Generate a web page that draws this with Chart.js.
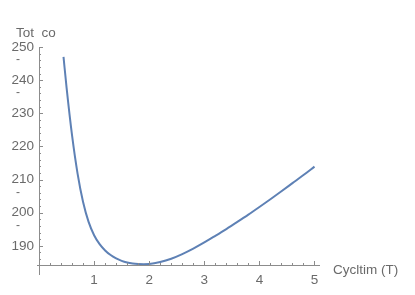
<!DOCTYPE html>
<html><head><meta charset="utf-8">
<script src="https://cdn.jsdelivr.net/npm/chart.js@4"></script>
<style>html,body{margin:0;padding:0;background:#fff}#wrap{width:415px;height:295px}</style>
</head><body><div id="wrap"><canvas id="c"></canvas></div>
<script>
const cycleTime = [0.445,0.5,0.6,0.7,0.8,0.9,1.0,1.1,1.2,1.3,1.4,1.5,1.6,1.7,1.8,1.9,2.0,2.2,2.4,2.6,2.8,3.0,3.2,3.4,3.6,3.8,4.0,4.2,4.4,4.6,4.8,5.0];
const totalCost = [247.0,237.8,223.3,211.8,203.2,197.2,193.2,190.5,188.6,187.2,186.2,185.45,184.95,184.65,184.5,184.45,184.5,185.1,186.1,187.5,189.15,191.0,193.0,195.05,197.2,199.4,201.7,204.05,206.45,208.9,211.35,213.9];
const xTicks = [1,2,3,4,5];
const yTicks = [190,200,210,220,230,240,250];
const yLabel = "Tot  co";
const xLabel = "Cycltim (T)";
const dashUnder = [250,240,210,200];

const axisColor = '#8c8c8c';
const textColor = '#6a6a6a';
const fontFam = '"Liberation Sans", Arial, sans-serif';

const axesPlugin = {
  id: 'mmaAxes',
  afterDatasetsDraw(chart) {
    const ctx = chart.ctx, xs = chart.scales.x, ys = chart.scales.y;
    const ax = xs.getPixelForValue(0), ay = ys.getPixelForValue(ys.min);
    ctx.save();
    ctx.strokeStyle = axisColor; ctx.lineWidth = 1;
    ctx.beginPath();
    ctx.moveTo(ax - 2, Math.round(ay) + 0.5); ctx.lineTo(xs.getPixelForValue(5.1), Math.round(ay) + 0.5);
    ctx.moveTo(Math.round(ax) + 0.5, ys.getPixelForValue(250)); ctx.lineTo(Math.round(ax) + 0.5, ay + 10);
    for (let v = 0.2; v <= 5.01; v += 0.2) {
      const p = Math.round(xs.getPixelForValue(v)) + 0.5;
      const major = Math.abs(v - Math.round(v)) < 1e-6;
      ctx.moveTo(p, ay); ctx.lineTo(p, ay - (major ? 4 : 2));
    }
    for (let v = 186; v <= 250.01; v += 2) {
      const p = Math.round(ys.getPixelForValue(v)) + 0.5;
      const major = v % 10 === 0;
      ctx.moveTo(ax, p); ctx.lineTo(ax + (major ? 4 : 2), p);
    }
    ctx.stroke();
    ctx.fillStyle = textColor;
    ctx.font = '13.5px ' + fontFam;
    ctx.textBaseline = 'alphabetic';
    ctx.textAlign = 'left';
    ctx.fillText(yLabel, 16, 37);
    ctx.fillText(xLabel, 333, 274);
    ctx.font = '12px ' + fontFam;
    dashUnder.forEach(v => {
      ctx.fillText('-', 16, ys.getPixelForValue(v) + 16);
    });
    ctx.restore();
  }
};

new Chart(document.getElementById('c'), {
  type: 'scatter',
  data: { datasets: [{
    data: cycleTime.map((t, i) => ({x: t, y: totalCost[i]})),
    showLine: true, borderColor: '#5E81B5', borderWidth: 2, pointRadius: 0,
    cubicInterpolationMode: 'monotone', fill: false
  }]},
  options: {
    responsive: true, maintainAspectRatio: false, animation: false,
    layout: { padding: { top: 47, right: 95, left: 0, bottom: 0 } },
    plugins: { legend: { display: false }, tooltip: { enabled: false } },
    scales: {
      x: {
        type: 'linear', min: 0, max: 5.1,
        grid: { display: false, drawTicks: false }, border: { display: false },
        ticks: { stepSize: 1, padding: 7, color: textColor, font: { size: 13.5, family: fontFam } },
        afterBuildTicks(s) { s.ticks = xTicks.map(v => ({value: v})); },
        afterFit(s) { s.height = 30; }
      },
      y: {
        type: 'linear', min: 184.2, max: 250,
        grid: { display: false, drawTicks: false }, border: { display: false },
        ticks: { stepSize: 10, padding: 5, color: textColor, font: { size: 13.5, family: fontFam } },
        afterBuildTicks(s) { s.ticks = yTicks.map(v => ({value: v})); },
        afterFit(s) { s.width = 39; }
      }
    }
  },
  plugins: [axesPlugin]
});
</script></body></html>
